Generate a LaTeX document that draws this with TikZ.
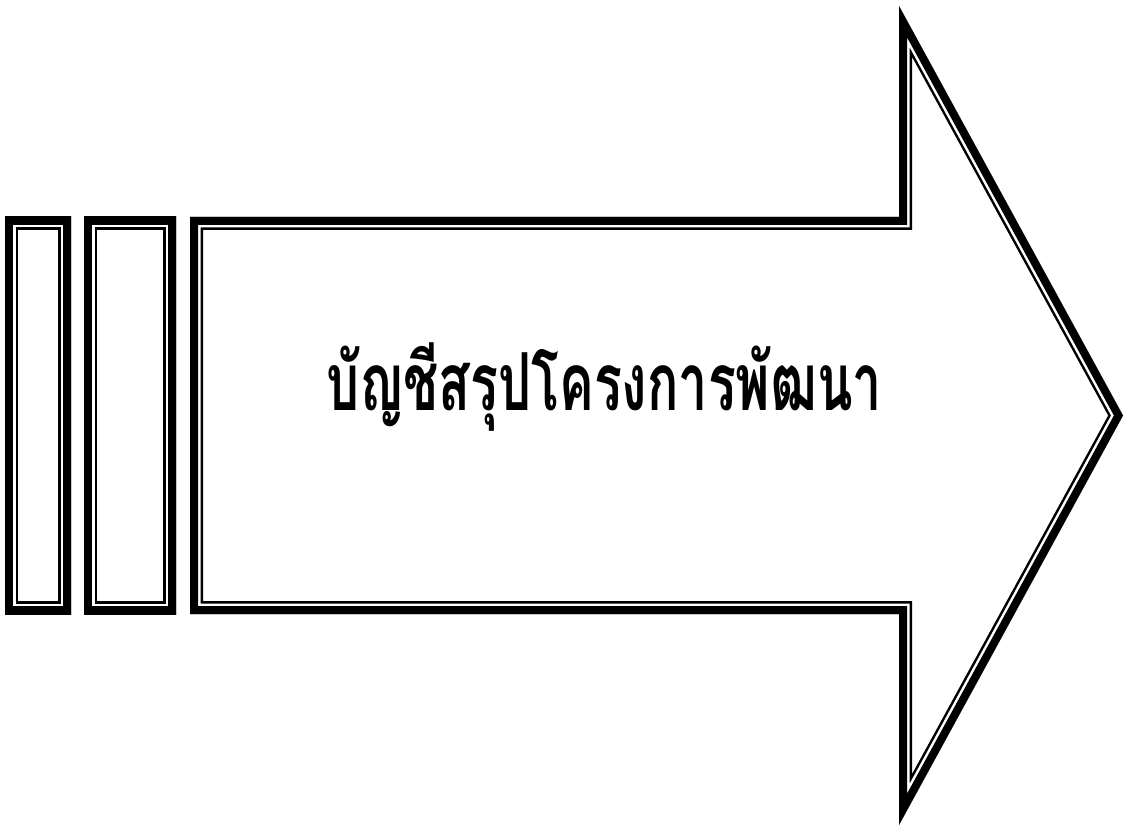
\documentclass[tikz,border=0pt]{standalone}
\usepackage{fontspec}
\newfontfamily\thaifont[Script=Thai]{Loma}
\newcommand\thickthinframe[1]{%
  \begin{scope}
    \clip #1;
    \fill[white] #1;
    \draw[line width=26pt] #1;
    \draw[white, line width=21pt] #1;
    \draw[line width=16pt] #1;
  \end{scope}}
\begin{document}
\begin{tikzpicture}[x=1pt,y=-1pt, line join=miter, miter limit=30]
\useasboundingbox (0,0) rectangle (1129,826);
\thickthinframe{(5,217) rectangle (71,614)}
\thickthinframe{(84,217) rectangle (176,614)}
\thickthinframe{(190,217) -- (899,217) -- (899,6) -- (1123,415.5) -- (899,825) -- (899,614) -- (190,614) -- cycle}
\node[inner sep=0pt] (title) at (604,387) {\scalebox{0.65}[1]{\thaifont\bfseries\fontsize{80}{88}\selectfont บัญชีสรุปโครงการพัฒนา}};
\end{tikzpicture}
\end{document}
